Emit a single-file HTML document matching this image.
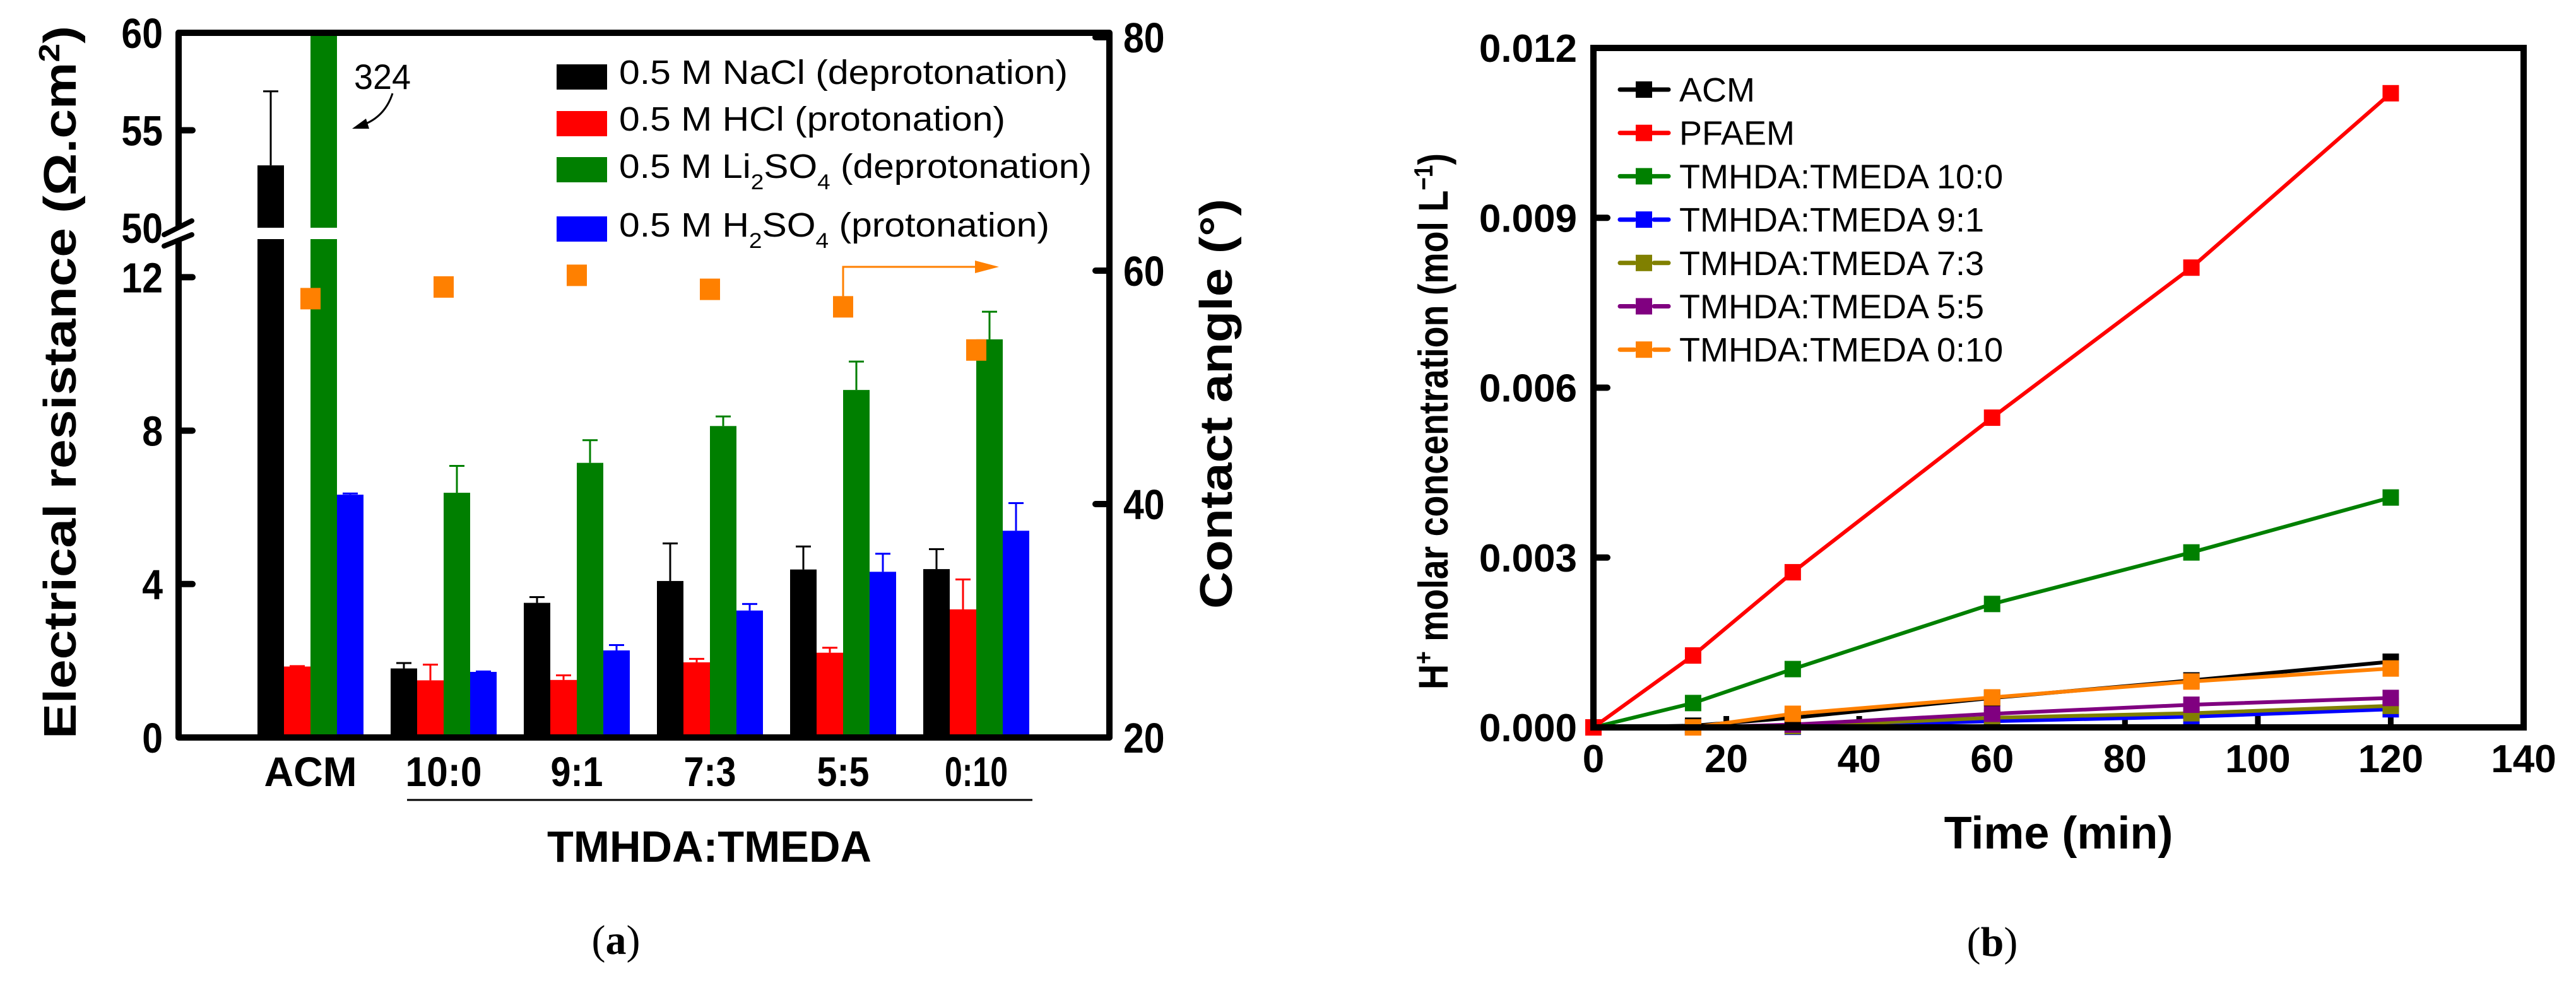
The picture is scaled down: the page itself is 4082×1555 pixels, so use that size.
<!DOCTYPE html>
<html><head><meta charset="utf-8">
<style>
html,body{margin:0;padding:0;background:#fff;}
svg{display:block;}
text{font-family:"Liberation Sans",sans-serif;}
</style></head>
<body>
<svg id="fig" xmlns="http://www.w3.org/2000/svg" width="4082" height="1555" viewBox="0 0 4082 1555">
<rect width="4082" height="1555" fill="#fff"/>
<g id="pa"></g>
<g id="pb"></g>
</svg>
<script>
// ---------- Panel (a) data ----------
const catsA = ["ACM","10:0","9:1","7:3","5:5","0:10"];
const naclVals = [53.2,1.80,3.51,4.08,4.38,4.39];
const naclErr  = [57.0,1.94,3.66,5.06,4.98,4.91];
const hclVals  = [1.85,1.49,1.50,1.96,2.21,3.34];
const hclErr   = [1.86,1.90,1.62,2.05,2.34,4.12];
const li2Vals  = [324,6.38,7.16,8.12,9.06,10.38];
const li2Err   = [324,7.08,7.75,8.37,9.80,11.10];
const h2Vals   = [6.33,1.71,2.27,3.31,4.32,5.39];
const h2Err    = [6.36,1.72,2.41,3.48,4.79,6.11];
const angleVals = [57.6,58.6,59.6,58.4,56.9,53.2];
const leftTicksLow = [0,4,8,12];
const leftTicksHigh = [50,55,60];
const rightTicks = [20,40,60,80];

// ---------- Panel (b) data ----------
const timesB = [0,15,30,60,90,120];
const acmB   = [0,0.00003,0.00017,0.00052,0.00083,0.00116];
const pfaemB = [0,0.00127,0.00274,0.00547,0.00812,0.0112];
const r100B  = [0,0.00043,0.00103,0.00218,0.00309,0.00406];
const r91B   = [0,0,0.00001,0.00011,0.00019,0.00032];
const r73B   = [0,0,0.00002,0.00017,0.00025,0.00038];
const r55B   = [0,0,0.00005,0.00024,0.00040,0.00052];
const r010B  = [0,0,0.00024,0.00053,0.00081,0.00104];
const xTicksB = [0,20,40,60,80,100,120,140];
const yTicksB = [0,0.003,0.006,0.009,0.012];
const yTickLabelsB = ["0.000","0.003","0.006","0.009","0.012"];

const NS="http://www.w3.org/2000/svg";
function mk(parent,tag,attrs,txt){const e=document.createElementNS(NS,tag);for(const k in attrs)e.setAttribute(k,attrs[k]);if(txt!==undefined)e.textContent=txt;parent.appendChild(e);return e;}

// ===== Panel A =====
const pa=document.getElementById('pa');
const AL=283, AR=1758, AT=52, AB=1169;
function yLow(v){return 1169 - v*60.8;}
function yHigh(v){return 361 - (v-50)*30.9;}
function yA(v){ if(v<=13) return yLow(v); return Math.max(AT, yHigh(Math.min(v,60))); }
function yAng(v){return 1169 - (v-20)*18.5;}
function xGroup(i){return 492 + i*211;}
const seriesA=[
 {name:"nacl",vals:naclVals,err:naclErr,color:"#000000",off:-84},
 {name:"hcl",vals:hclVals,err:hclErr,color:"#ff0000",off:-42},
 {name:"li2so4",vals:li2Vals,err:li2Err,color:"#007f00",off:0},
 {name:"h2so4",vals:h2Vals,err:h2Err,color:"#0000ff",off:42}
];
seriesA.forEach(s=>{
  s.vals.forEach((v,i)=>{
    const x=xGroup(i)+s.off;
    if(v>13){
      const lower=mk(pa,'rect',{x:x,y:379,width:42,height:AB-379,fill:s.color});
      
      
      const top=yA(v);
      const upper=mk(pa,'rect',{x:x,y:top,width:42,height:361-top,fill:s.color});
      
      
    } else {
      const b=mk(pa,'rect',{x:x,y:yA(v),width:42,height:AB-yA(v),fill:s.color});
      
      
    }
    const e=s.err[i];
    if(e>v && e<=60){
      const cx=x+21;
      const g=mk(pa,'g',{stroke:s.color,'stroke-width':3});
      
      
      mk(g,'line',{x1:cx,y1:yA(v),x2:cx,y2:yA(e)});
      mk(g,'line',{x1:cx-12,y1:yA(e),x2:cx+12,y2:yA(e)});
    }
  });
});
angleVals.forEach((v,i)=>{
  const p=mk(pa,'rect',{x:xGroup(i)-16,y:yAng(v)-17,width:32,height:34,fill:"#ff8000"});
  
  
});
(function(){
 const i=4, x=xGroup(i), y0=yAng(angleVals[i])-17;
 const g=mk(pa,'g',{});
 
 
 mk(g,'polyline',{points:`${x},${y0} ${x},423 1560,423`,fill:'none',stroke:'#ff8000','stroke-width':3});
 mk(g,'polygon',{points:'1545,413 1583,423 1545,433',fill:'#ff8000'});
})();
const frameA=mk(pa,'g',{stroke:'#000','stroke-width':10,fill:'none'});


mk(frameA,'polyline',{points:`${AL},${AB} ${AL},${AT} ${AR},${AT} ${AR},${AB} ${AL},${AB}`,'stroke-linejoin':'round'});
mk(pa,'rect',{x:270,y:362,width:30,height:16,fill:'#fff'});
const brk=mk(pa,'g',{stroke:'#000','stroke-width':8,'stroke-linecap':'round'});


mk(brk,'line',{x1:260,y1:372,x2:304,y2:350});
mk(brk,'line',{x1:260,y1:390,x2:304,y2:372});
function tickA(y,lab,key){
  const t=mk(pa,'line',{x1:AL,y1:y,x2:AL+22,y2:y,stroke:'#000','stroke-width':10,'stroke-linecap':'round'});
  
  
}
function tickLabA(y,lab,key){
  const tx=mk(pa,'text',{x:258,y:y+24,'font-size':67,'font-weight':'bold','text-anchor':'end',transform:`translate(258 0) scale(0.88 1) translate(-258 0)`},lab);
  
  
}
leftTicksLow.forEach(v=>{tickA(yLow(v),String(v),v);tickLabA(yLow(v),String(v),v);});
leftTicksHigh.forEach(v=>{ if(v!==50) tickA(yHigh(v),String(v),v); tickLabA(yHigh(v),String(v),v);});
rightTicks.forEach(v=>{
  const y=yAng(v);
  const t=mk(pa,'line',{x1:AR,y1:y,x2:AR-22,y2:y,stroke:'#000','stroke-width':10,'stroke-linecap':'round'});
  
  
  const tx=mk(pa,'text',{x:1780,y:y+24,'font-size':67,'font-weight':'bold',transform:`translate(1780 0) scale(0.88 1) translate(-1780 0)`},String(v));
  
  
});
const catW=[147,121,83,83,83,100];
catsA.forEach((c,i)=>{
  const t=mk(pa,'text',{x:xGroup(i),y:1246,'font-size':66,'font-weight':'bold','text-anchor':'middle',textLength:catW[i],lengthAdjust:'spacingAndGlyphs'},c);
  
  
});
</script>
<script>
(function(){
const pa=document.getElementById('pa');
pa.insertAdjacentHTML('beforeend',`
<line x1="645" y1="1268" x2="1636" y2="1268" stroke="#000" stroke-width="3"/>
<text x="1124" y="1366" font-size="70" font-weight="bold" text-anchor="middle" textLength="514" lengthAdjust="spacingAndGlyphs">TMHDA:TMEDA</text>
<text x="976" y="1512" font-size="66" text-anchor="middle" style="font-family:'Liberation Serif',serif">(<tspan font-weight="bold">a</tspan>)</text>
<text transform="translate(120 606) rotate(-90)" font-size="72" font-weight="bold" text-anchor="middle" textLength="1130" lengthAdjust="spacingAndGlyphs">Electrical resistance (Ω.cm<tspan dy="-26" font-size="46">2</tspan><tspan dy="26">)</tspan></text>
<text transform="translate(1952 640) rotate(-90)" font-size="72" font-weight="bold" text-anchor="middle" textLength="650" lengthAdjust="spacingAndGlyphs">Contact angle (°)</text>
<text x="561" y="141" font-size="56" textLength="90" lengthAdjust="spacingAndGlyphs">324</text>
<g>
 <path d="M622,148 Q610,185 575,198" fill="none" stroke="#000" stroke-width="3"/>
 <polygon points="558,204 580,188 585,204" fill="#000"/>
</g>
<g>
 <rect x="882" y="102" width="80" height="40" fill="#000"/>
 <text x="981" y="133" font-size="54" textLength="711" lengthAdjust="spacingAndGlyphs">0.5 M NaCl (deprotonation)</text>
 <rect x="882" y="176" width="80" height="40" fill="#f00"/>
 <text x="981" y="207" font-size="54" textLength="612" lengthAdjust="spacingAndGlyphs">0.5 M HCl (protonation)</text>
 <rect x="882" y="249" width="80" height="40" fill="#007f00"/>
 <text x="981" y="282" font-size="54" textLength="749" lengthAdjust="spacingAndGlyphs">0.5 M Li<tspan dy="18" font-size="34">2</tspan><tspan dy="-18">SO</tspan><tspan dy="18" font-size="34">4</tspan><tspan dy="-18"> (deprotonation)</tspan></text>
 <rect x="882" y="343" width="80" height="40" fill="#00f"/>
 <text x="981" y="375" font-size="54" textLength="682" lengthAdjust="spacingAndGlyphs">0.5 M H<tspan dy="18" font-size="34">2</tspan><tspan dy="-18">SO</tspan><tspan dy="18" font-size="34">4</tspan><tspan dy="-18"> (protonation)</tspan></text>
</g>`);
})();

// ===== Panel B =====
(function(){
const pb=document.getElementById('pb');
const BL=2525, BR=3999, BT=76, BB=1153;
function xB(t){return BL + (t/140)*(BR-BL);}
function yB(v){return BB - (v/0.012)*(BB-BT);}
xTicksB.forEach(t=>{
  const tk=mk(pb,'line',{x1:xB(t),y1:BB,x2:xB(t),y2:BB-18,stroke:'#000','stroke-width':9});
  
  
  const lb=mk(pb,'text',{x:xB(t),y:1224,'font-size':62,'font-weight':'bold','text-anchor':'middle'},String(t));
  
  
});
yTicksB.forEach((v,i)=>{
  const tk=mk(pb,'line',{x1:BL,y1:yB(v),x2:BL+22,y2:yB(v),stroke:'#000','stroke-width':10,'stroke-linecap':'round'});
  
  
  const lb=mk(pb,'text',{x:2499,y:yB(v)+22,'font-size':62,'font-weight':'bold','text-anchor':'end'},yTickLabelsB[i]);
  
  
});
const seriesB=[
 {name:"acm",label:"ACM",vals:acmB,color:"#000000",dash:false},
 {name:"pfaem",label:"PFAEM",vals:pfaemB,color:"#ff0000",dash:false},
 {name:"r10-0",label:"TMHDA:TMEDA 10:0",vals:r100B,color:"#008000",dash:false},
 {name:"r9-1",label:"TMHDA:TMEDA 9:1",vals:r91B,color:"#0000ff",dash:true},
 {name:"r7-3",label:"TMHDA:TMEDA 7:3",vals:r73B,color:"#808000",dash:true},
 {name:"r5-5",label:"TMHDA:TMEDA 5:5",vals:r55B,color:"#800080",dash:true},
 {name:"r0-10",label:"TMHDA:TMEDA 0:10",vals:r010B,color:"#ff8000",dash:true}
];
[3,4,5,0,6,2,1].forEach(k=>{
  const s=seriesB[k];
  const pts=timesB.map((t,i)=>xB(t)+','+yB(s.vals[i])).join(' ');
  const ln=mk(pb,'polyline',{points:pts,fill:'none',stroke:s.color,'stroke-width':6});
  
  
  timesB.forEach((t,i)=>{
    const m=mk(pb,'rect',{x:xB(t)-13,y:yB(s.vals[i])-13,width:26,height:26,fill:s.color});
    
    
  });
});
const fr=mk(pb,'rect',{x:BL,y:BT,width:BR-BL,height:BB-BT,fill:'none',stroke:'#000','stroke-width':10});


seriesB.forEach((s,i)=>{
  const y=142+i*68.7;
  const g=mk(pb,'g',{});
  
  
  if(s.dash){
    mk(g,'line',{x1:2567,y1:y,x2:2590,y2:y,stroke:s.color,'stroke-width':7,'stroke-linecap':'round'});
    mk(g,'line',{x1:2621,y1:y,x2:2644,y2:y,stroke:s.color,'stroke-width':7,'stroke-linecap':'round'});
  } else {
    mk(g,'line',{x1:2567,y1:y,x2:2644,y2:y,stroke:s.color,'stroke-width':7,'stroke-linecap':'round'});
  }
  mk(g,'rect',{x:2592,y:y-13,width:26,height:26,fill:s.color});
  mk(g,'text',{x:2661,y:y+19,'font-size':54},s.label);
});
pb.insertAdjacentHTML('beforeend',`
<text x="3262" y="1345" font-size="72" font-weight="bold" text-anchor="middle">Time (min)</text>
<text transform="translate(2294 668) rotate(-90)" font-size="66" font-weight="bold" text-anchor="middle" textLength="850" lengthAdjust="spacingAndGlyphs">H<tspan dy="-24" font-size="42">+</tspan><tspan dy="24"> molar concentration (mol L</tspan><tspan dy="-24" font-size="42">−1</tspan><tspan dy="24">)</tspan></text>
<text x="3157" y="1515" font-size="66" text-anchor="middle" style="font-family:'Liberation Serif',serif">(<tspan font-weight="bold">b</tspan>)</text>`);
})();
</script>
</body></html>
